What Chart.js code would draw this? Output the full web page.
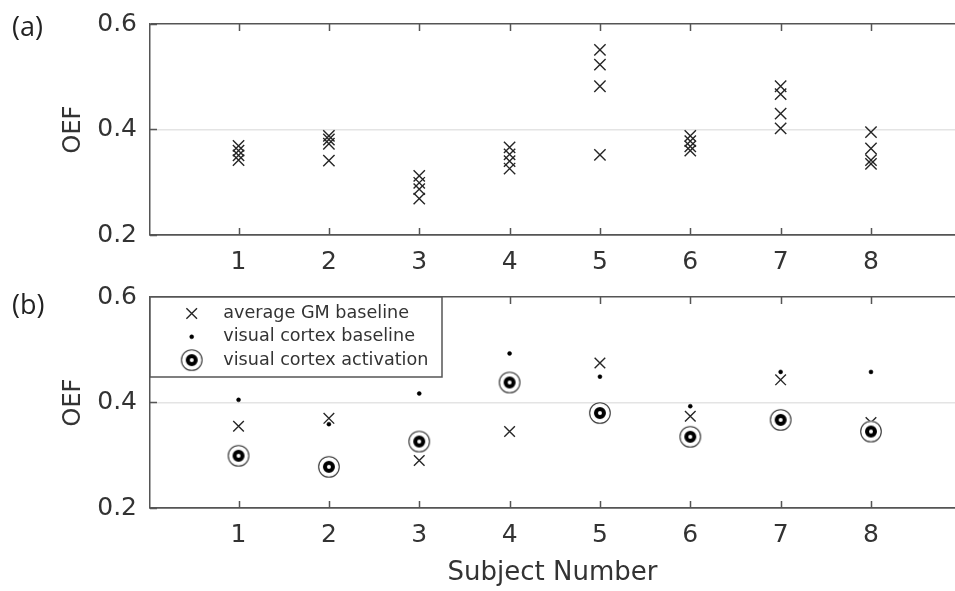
<!DOCTYPE html>
<html>
<head>
<meta charset="utf-8">
<script src="https://cdn.jsdelivr.net/npm/chart.js@4.4.0/dist/chart.umd.min.js"></script>
<style>
  html, body { margin: 0; padding: 0; background: #ffffff; width: 955px; height: 591px; overflow: hidden; }
  .wrap { position: absolute; left: 0; width: 955px; }
  #wrapA { top: 0; height: 280px; }
  #wrapB { top: 270px; height: 321px; }
  .panel { position: absolute; font-family: 'Open Sans', Lato, sans-serif; font-size: 27px; line-height: 28px; color: #222; }
</style>
</head>
<body>
<div class="wrap" id="wrapA"><canvas id="chartA" width="955" height="280"></canvas></div>
<div class="wrap" id="wrapB"><canvas id="chartB" width="955" height="321"></canvas></div>
<div class="panel" style="left:12px; top:12px;">(a)</div>
<div class="panel" style="left:12px; top:290px;">(b)</div>
<script>
// ---------------- data ----------------
const subjects = [1, 2, 3, 4, 5, 6, 7, 8];
const xTickLabels = ['1', '2', '3', '4', '5', '6', '7', '8'];
const yTickValues = [0.2, 0.4, 0.6];
const yTickLabels = ['0.2', '0.4', '0.6'];

// panel (a): four repeated OEF measurements per subject
const repeat1 = [0.369, 0.388, 0.312, 0.366, 0.551, 0.388, 0.482, 0.395];
const repeat2 = [0.360, 0.381, 0.299, 0.353, 0.523, 0.378, 0.467, 0.364];
const repeat3 = [0.351, 0.373, 0.287, 0.340, 0.482, 0.368, 0.430, 0.342];
const repeat4 = [0.342, 0.341, 0.269, 0.326, 0.352, 0.360, 0.402, 0.335];

// panel (b)
const gmBaseline   = [0.355, 0.370, 0.290, 0.345, 0.475, 0.374, 0.443, 0.362];
const vcBaseline   = [0.405, 0.359, 0.417, 0.493, 0.449, 0.393, 0.458, 0.458];
const vcActivation = [0.299, 0.278, 0.326, 0.438, 0.380, 0.335, 0.367, 0.345];

const legendLabels = ['average GM baseline', 'visual cortex baseline', 'visual cortex activation'];
const yTitle = 'OEF';
const xTitle = 'Subject Number';

// ---------------- styling ----------------
const FONT = "'DejaVu Sans', sans-serif";
const TEXT = '#333333';
const AXIS = '#555555';
const GRID = '#e4e4e4';
const MARK = '#262626';

function pts(values) { return subjects.map((s, i) => ({ x: s, y: values[i] })); }

function makeBullseye() {
  const c = document.createElement('canvas');
  c.width = 24; c.height = 24;
  const g = c.getContext('2d');
  g.fillStyle = '#ffffff';
  g.beginPath(); g.arc(12, 12, 11, 0, Math.PI * 2); g.fill();
  g.strokeStyle = '#333333'; g.lineWidth = 1.1;
  g.beginPath(); g.arc(12, 12, 10.3, 0, Math.PI * 2); g.stroke();
  g.strokeStyle = '#000000'; g.lineWidth = 4;
  g.beginPath(); g.arc(12, 12, 4, 0, Math.PI * 2); g.stroke();
  return c;
}
const bullseye = makeBullseye();

function makeScales(xAxisHeight, showXTitle) {
  return {
    x: {
      type: 'linear', min: 0.02, max: 8.93,
      afterBuildTicks: s => { s.ticks = subjects.map(v => ({ value: v })); },
      afterFit: s => { s.height = xAxisHeight; s.paddingLeft = 0; s.paddingRight = 0; },
      grid: { display: false, drawTicks: false },
      border: { display: true, color: AXIS, width: 1.5 },
      ticks: {
        autoSkip: false, maxRotation: 0, padding: 12, color: TEXT,
        font: { family: FONT, size: 25 },
        callback: (v, i) => xTickLabels[i]
      },
      title: {
        display: showXTitle, text: xTitle, color: TEXT,
        font: { family: FONT, size: 26 }, padding: { top: 0, bottom: 2 }
      }
    },
    y: {
      type: 'linear', min: 0.2, max: 0.6,
      afterBuildTicks: s => { s.ticks = yTickValues.map(v => ({ value: v })); },
      afterFit: s => { s.width = 150; s.paddingTop = 0; s.paddingBottom = 0; },
      grid: {
        drawTicks: false,
        color: c => (c.tick && Math.abs(c.tick.value - 0.4) < 1e-6) ? GRID : AXIS,
        lineWidth: 1.5
      },
      border: { display: true, color: AXIS, width: 1.5 },
      ticks: {
        padding: 13, color: TEXT,
        font: { family: FONT, size: 25 },
        callback: (v, i) => yTickLabels[i]
      },
      title: {
        display: true, text: yTitle, color: TEXT,
        font: { family: FONT, size: 24 }, padding: { top: 59, bottom: 0 }
      }
    }
  };
}

const inwardTicks = {
  id: 'inwardTicks',
  beforeDatasetsDraw(chart) {
    const { ctx, chartArea: a, scales: { x, y } } = chart;
    ctx.save();
    ctx.strokeStyle = AXIS; ctx.lineWidth = 1.5;
    ctx.beginPath();
    x.ticks.forEach(t => {
      const px = Math.round(x.getPixelForValue(t.value)) + 0.5;
      ctx.moveTo(px, a.bottom); ctx.lineTo(px, a.bottom - 7);
      ctx.moveTo(px, a.top); ctx.lineTo(px, a.top + 7);
    });
    y.ticks.forEach(t => {
      const py = Math.round(y.getPixelForValue(t.value)) + 0.5;
      ctx.moveTo(a.left, py); ctx.lineTo(a.left + 7, py);
    });
    ctx.stroke();
    ctx.restore();
  }
};

function drawMarker(ctx, ds, x, y) {
  const H = (window.Chart && Chart.helpers) ? Chart.helpers : null;
  ctx.strokeStyle = ds.borderColor; ctx.fillStyle = ds.backgroundColor; ctx.lineWidth = ds.borderWidth;
  if (H && H.drawPoint) {
    H.drawPoint(ctx, { pointStyle: ds.pointStyle, radius: ds.pointRadius, borderWidth: ds.borderWidth, rotation: 0 }, x, y);
  } else if (typeof ds.pointStyle === 'object') {
    ctx.drawImage(ds.pointStyle, x - ds.pointStyle.width / 2, y - ds.pointStyle.height / 2);
  }
}

const boxLegend = {
  id: 'boxLegend',
  afterDraw(chart) {
    const { ctx, chartArea: a } = chart;
    const w = 292, h = 80;
    ctx.save();
    ctx.fillStyle = '#ffffff';
    ctx.fillRect(a.left, a.top, w, h);
    ctx.strokeStyle = AXIS; ctx.lineWidth = 1.5;
    ctx.strokeRect(a.left, a.top, w, h);
    chart.data.datasets.forEach((ds, i) => {
      const cy = a.top + 16.5 + i * 23.3;
      drawMarker(ctx, ds, a.left + 41.7, cy);
      ctx.fillStyle = TEXT;
      ctx.font = '17.6px ' + FONT;
      ctx.textAlign = 'left'; ctx.textBaseline = 'middle';
      ctx.fillText(ds.label, a.left + 73.3, cy);
    });
    ctx.restore();
  }
};

const common = {
  responsive: false, animation: false, devicePixelRatio: 1, events: [],
  plugins: { legend: { display: false }, tooltip: { enabled: false } }
};

function crossSet(label, values, order) {
  return {
    label: label, data: pts(values), pointStyle: 'crossRot', pointRadius: 8,
    borderColor: MARK, backgroundColor: MARK, borderWidth: 1.4, showLine: false, order: order
  };
}

new Chart(document.getElementById('chartA'), {
  type: 'scatter',
  data: {
    datasets: [
      crossSet('repeat 1', repeat1, 0),
      crossSet('repeat 2', repeat2, 0),
      crossSet('repeat 3', repeat3, 0),
      crossSet('repeat 4', repeat4, 0)
    ]
  },
  options: Object.assign({}, common, {
    layout: { autoPadding: false, padding: { top: 24, left: 0, right: 0, bottom: 0 } },
    scales: makeScales(45, false)
  }),
  plugins: [inwardTicks]
});

new Chart(document.getElementById('chartB'), {
  type: 'scatter',
  data: {
    datasets: [
      {
        label: legendLabels[0], data: pts(gmBaseline), pointStyle: 'crossRot', pointRadius: 7.5,
        borderColor: MARK, backgroundColor: MARK, borderWidth: 1.4, showLine: false, order: 2
      },
      {
        label: legendLabels[1], data: pts(vcBaseline), pointStyle: 'circle', pointRadius: 2,
        borderColor: '#000000', backgroundColor: '#000000', borderWidth: 0.5, showLine: false, order: 1
      },
      {
        label: legendLabels[2], data: pts(vcActivation), pointStyle: bullseye, pointRadius: 11,
        borderColor: '#000000', backgroundColor: '#ffffff', borderWidth: 1, showLine: false, order: 0
      }
    ]
  },
  options: Object.assign({}, common, {
    layout: { autoPadding: false, padding: { top: 27, left: 0, right: 0, bottom: 0 } },
    scales: makeScales(83, true)
  }),
  plugins: [inwardTicks, boxLegend]
});
</script>
</body>
</html>
